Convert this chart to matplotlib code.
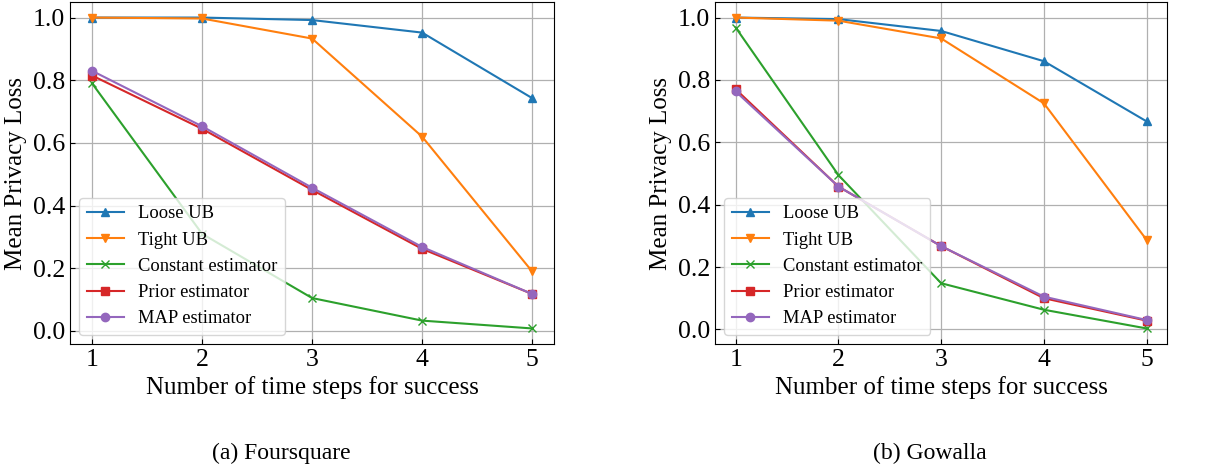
import matplotlib
matplotlib.use("Agg")
import matplotlib.pyplot as plt

plt.rcParams['font.family'] = ['Liberation Serif', 'DejaVu Serif']

steps = [1, 2, 3, 4, 5]
labels = ["Loose UB", "Tight UB", "Constant estimator", "Prior estimator", "MAP estimator"]
markers = ["^", "v", "x", "s", "o"]
colors = ["tab:blue", "tab:orange", "tab:green", "tab:red", "tab:purple"]

# Foursquare
fs_loose = [1.0, 1.0, 0.992, 0.952, 0.743]
fs_tight = [1.0, 0.997, 0.933, 0.620, 0.190]
fs_const = [0.790, 0.310, 0.105, 0.033, 0.008]
fs_prior = [0.815, 0.645, 0.450, 0.262, 0.118]
fs_map = [0.830, 0.653, 0.457, 0.268, 0.118]

# Gowalla
gw_loose = [1.0, 0.995, 0.957, 0.860, 0.667]
gw_tight = [1.0, 0.990, 0.933, 0.725, 0.287]
gw_const = [0.968, 0.495, 0.148, 0.063, 0.003]
gw_prior = [0.770, 0.458, 0.267, 0.100, 0.028]
gw_map = [0.763, 0.458, 0.267, 0.105, 0.030]

panels = [
    ([fs_loose, fs_tight, fs_const, fs_prior, fs_map], "(a) Foursquare"),
    ([gw_loose, gw_tight, gw_const, gw_prior, gw_map], "(b) Gowalla"),
]

fig = plt.figure(figsize=(12.08, 4.67), dpi=100)
rects = [[0.058, 0.2634, 0.4007, 0.7323], [0.592, 0.2634, 0.3742, 0.7323]]
cap_x = [0.233, 0.770]

for (series, caption), rect, cx in zip(panels, rects, cap_x):
    ax = fig.add_axes(rect)
    for vals, lab, mk, col in zip(series, labels, markers, colors):
        ax.plot(steps, vals, marker=mk, color=col, label=lab, linewidth=1.5, markersize=6)
    ax.grid(True, color="#b0b0b0", linewidth=0.9)
    ax.set_xticks(steps)
    ax.set_yticks([0.0, 0.2, 0.4, 0.6, 0.8, 1.0])
    ax.tick_params(direction="in", labelsize=18.5)
    ax.set_xlabel("Number of time steps for success", fontsize=18)
    ax.set_ylabel("Mean Privacy Loss", fontsize=18)
    ax.legend(loc="lower left", fontsize=13.3)
    fig.text(cx, 0.03, caption, ha="center", va="center", fontsize=17)

fig.savefig("out.png", dpi=100)
